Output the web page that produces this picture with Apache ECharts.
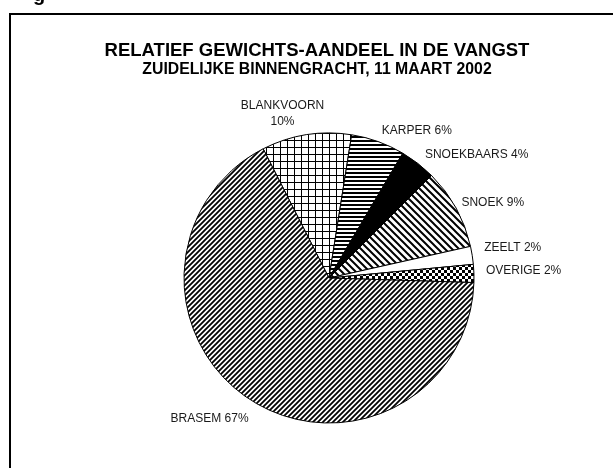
<!DOCTYPE html>
<html>
<head>
<meta charset="utf-8">
<script src="https://cdn.jsdelivr.net/npm/echarts@6/dist/echarts.min.js"></script>
<style>
  html, body { margin: 0; padding: 0; background: #fff; }
  #chart { width: 613px; height: 468px; }
</style>
</head>
<body>
<div id="chart"></div>
<script>
// soorten en gewichtsaandeel (%), met de klok mee vanaf linksboven
const species = ["BLANKVOORN", "KARPER", "SNOEKBAARS", "SNOEK", "ZEELT", "OVERIGE", "BRASEM"];
const shares = [10, 6, 4, 9, 2, 2, 67];
const fills = ["grid", "hlines", "solid", "backslash", "white", "checker", "slash"];

const titleText = "RELATIEF GEWICHTS-AANDEEL IN DE VANGST";
const subText = "ZUIDELIJKE BINNENGRACHT, 11 MAART 2002";

// kleine verschuivingen van de labels [dx, dy]
const labelShift = [[-18, -16], [-3, -6], [-1, -5], [-4, -3], [2, -7], [2, -3], [5, 14]];

// zwart-wit arceringen zoals in de oude excel grafiek
function makePattern(kind) {
  if (kind === "white") return "#fff";
  const c = document.createElement("canvas");
  let s = 6;
  if (kind === "hlines") s = 4;
  if (kind === "grid") s = 7;
  if (kind === "slash") s = 5;
  if (kind === "backslash") s = 7;
  c.width = s;
  c.height = s;
  const g = c.getContext("2d");
  g.fillStyle = "#fff";
  g.fillRect(0, 0, s, s);
  g.strokeStyle = "#000";
  g.fillStyle = "#000";
  if (kind === "solid") {
    g.fillRect(0, 0, s, s);
  } else if (kind === "hlines") {
    g.fillRect(0, 0, s, 2);
  } else if (kind === "grid") {
    g.fillRect(0, 0, s, 1);
    g.fillRect(0, 0, 1, s);
  } else if (kind === "checker") {
    g.fillRect(0, 0, 3, 3);
    g.fillRect(3, 3, 3, 3);
  } else {
    g.lineWidth = kind === "slash" ? 1.8 : 2.0;
    g.beginPath();
    if (kind === "slash") {
      g.moveTo(-1, s + 1); g.lineTo(s + 1, -1);
      g.moveTo(-2, 2); g.lineTo(2, -2);
      g.moveTo(s - 2, s + 2); g.lineTo(s + 2, s - 2);
    } else {
      g.moveTo(-1, -1); g.lineTo(s + 1, s + 1);
      g.moveTo(-2, s - 2); g.lineTo(2, s + 2);
      g.moveTo(s - 2, -2); g.lineTo(s + 2, 2);
    }
    g.stroke();
  }
  return { image: c, repeat: "repeat" };
}

const chart = echarts.init(document.getElementById("chart"), null, { renderer: "canvas" });

chart.setOption({
  animation: false,
  graphic: [
    {
      type: "rect",
      shape: { x: 10, y: 14, width: 700, height: 600 },
      style: { fill: "none", stroke: "#000", lineWidth: 2 }
    },
    {
      type: "text",
      x: 33, y: 5,
      style: { text: "g", font: "bold 20px Arial", fill: "#000", textVerticalAlign: "bottom" }
    },
    {
      type: "text",
      x: 317, y: 51,
      style: {
        text: titleText, font: "bold 18.5px Arial", fill: "#000",
        textAlign: "center", textVerticalAlign: "middle"
      }
    },
    {
      type: "text",
      x: 317, y: 70,
      style: {
        text: subText, font: "bold 15.8px Arial", fill: "#000",
        textAlign: "center", textVerticalAlign: "middle"
      }
    }
  ],
  series: [
    {
      type: "pie",
      center: [329, 278],
      radius: 145,
      startAngle: 117,
      clockwise: true,
      percentPrecision: 0,
      avoidLabelOverlap: false,
      itemStyle: { borderColor: "#000", borderWidth: 1 },
      emphasis: { disabled: true },
      label: {
        show: true,
        position: "outside",
        fontFamily: "Arial",
        fontSize: 12,
        lineHeight: 16,
        color: "#1a1a1a",
        formatter: p => p.dataIndex === 0 ? p.name + "\n" + p.percent + "%" : p.name + " " + p.percent + "%"
      },
      labelLine: { show: false, length: 5, length2: 0 },
      labelLayout: p => {
        const sh = labelShift[p.dataIndex];
        const out = { dx: sh[0], dy: sh[1] };
        if (p.dataIndex === 0) out.align = "center";
        return out;
      },
      data: species.map((n, i) => ({
        name: n,
        value: shares[i],
        itemStyle: { color: makePattern(fills[i]) }
      }))
    }
  ]
});
</script>
</body>
</html>
